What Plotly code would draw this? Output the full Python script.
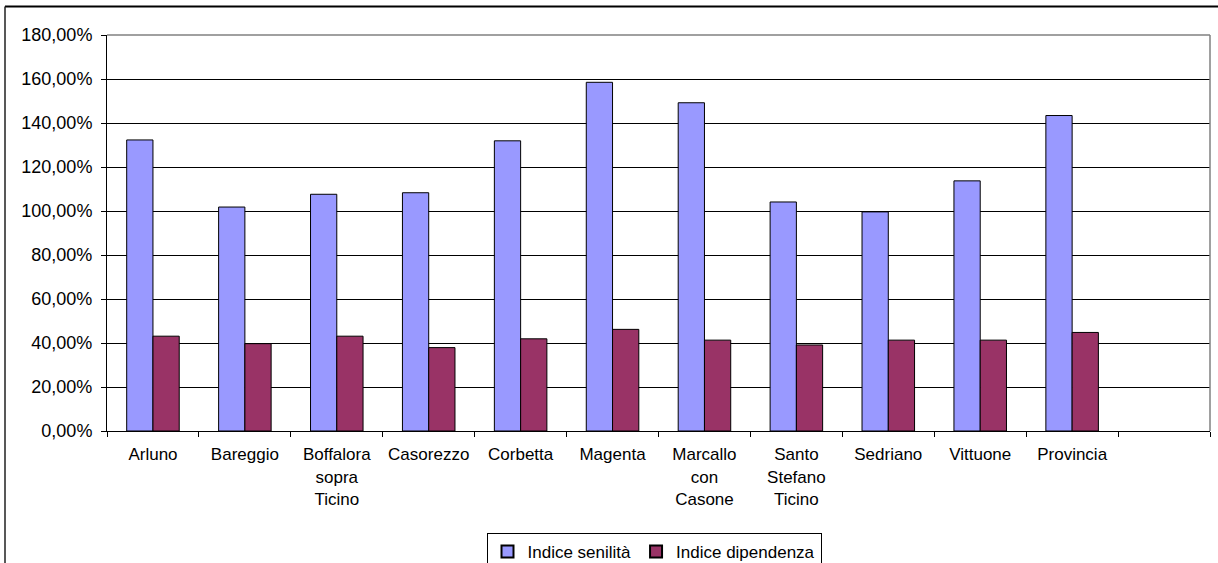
import plotly.graph_objects as go

# Comuni e indici (valori in %)
comuni = ["Arluno", "Bareggio", "Boffalora<br>sopra<br>Ticino", "Casorezzo", "Corbetta",
          "Magenta", "Marcallo<br>con<br>Casone", "Santo<br>Stefano<br>Ticino", "Sedriano",
          "Vittuone", "Provincia"]
indice_senilita = [132.3, 101.8, 107.6, 108.3, 131.9, 158.5, 149.2, 104.1, 99.6, 113.7, 143.4]
indice_dipendenza = [43.1, 39.7, 43.1, 37.9, 41.9, 46.2, 41.3, 39.1, 41.3, 41.3, 44.8]

y_ticks = [0, 20, 40, 60, 80, 100, 120, 140, 160, 180]
y_ticktext = ["0,00%", "20,00%", "40,00%", "60,00%", "80,00%", "100,00%",
              "120,00%", "140,00%", "160,00%", "180,00%"]

# an empty trailing slot keeps the category layout of the original sheet
categorie = comuni + [" "]

W, H = 1218, 563
L, R, T, B = 107, 8, 35, 132
plot_w = W - L - R
plot_h = H - T - B


def px_x(p):
    return (p - L) / plot_w


def px_y(p):
    return (H - B - p) / plot_h


FONT = dict(family="Liberation Sans, Arial, sans-serif", size=17, color="black")
YFONT = dict(family="Liberation Sans, Arial, sans-serif", size=18, color="black")

fig = go.Figure()
fig.add_trace(go.Bar(
    x=comuni, y=indice_senilita, name="Indice senilità",
    marker=dict(color="#9999FF", line=dict(color="black", width=1)),
))
fig.add_trace(go.Bar(
    x=comuni, y=indice_dipendenza, name="Indice dipendenza",
    marker=dict(color="#993366", line=dict(color="black", width=1)),
))

fig.update_layout(
    width=W, height=H,
    margin=dict(l=L, r=R, t=T, b=B, pad=0, autoexpand=False),
    paper_bgcolor="white", plot_bgcolor="white",
    font=FONT,
    barmode="group", bargap=1.5 / 3.5, bargroupgap=0,
    showlegend=True,
    legend=dict(
        orientation="h", yref="container", xref="container",
        x=654 / W, y=1 - 533 / H, xanchor="center", yanchor="top",
        bordercolor="black", borderwidth=1, bgcolor="white",
        font=FONT, itemsizing="constant", tracegroupgap=0,
    ),
    xaxis=dict(
        type="category", categoryorder="array", categoryarray=categorie,
        range=[-0.5, len(categorie) - 0.5], automargin=False,
        tickson="boundaries", ticks="outside", ticklen=5, tickcolor="black",
        ticklabelstandoff=8,
        showline=True, linecolor="black", linewidth=1,
        showgrid=False, tickfont=FONT, fixedrange=True,
    ),
    yaxis=dict(
        range=[0, 180], tickvals=y_ticks, ticktext=y_ticktext, automargin=False,
        ticks="outside", ticklen=5, tickcolor="black", ticklabelstandoff=5,
        showline=True, linecolor="black", linewidth=1,
        showgrid=True, gridcolor="black", gridwidth=1,
        zeroline=False, tickfont=YFONT, fixedrange=True,
    ),
    shapes=[
        # grey frame on the top and right of the plot area
        dict(type="line", xref="paper", yref="paper", x0=0, x1=1, y0=1, y1=1,
             line=dict(color="#808080", width=1.5), layer="above"),
        dict(type="line", xref="paper", yref="paper", x0=1, x1=1, y0=0, y1=1,
             line=dict(color="#808080", width=1.5), layer="above"),
        # outer chart border
        dict(type="line", xref="paper", yref="paper", x0=px_x(5), x1=px_x(1240),
             y0=px_y(6.5), y1=px_y(6.5), line=dict(color="black", width=2)),
        dict(type="line", xref="paper", yref="paper", x0=px_x(5), x1=px_x(5),
             y0=px_y(6.5), y1=px_y(600), line=dict(color="#202020", width=1.5)),
    ],
)

fig.write_html("out.html")
